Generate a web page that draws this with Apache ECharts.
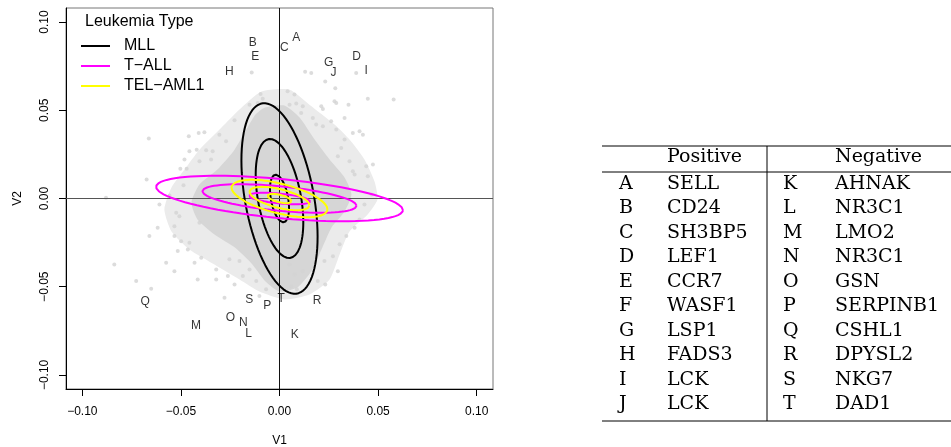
<!DOCTYPE html>
<html>
<head>
<meta charset="utf-8">
<script src="https://cdn.jsdelivr.net/npm/echarts@6/dist/echarts.min.js"></script>
<style>
html, body { margin: 0; padding: 0; background: #fff; }
#chart { width: 951px; height: 447px; }
</style>
</head>
<body>
<div id="chart"></div>
<script>
// tick positions on both axes
const axisTicks = [-0.1, -0.05, 0, 0.05, 0.1];

// gray gene cloud: outline of the dense core, outline of the thinner ring around it,
// and the single genes that sit outside / on the edge of it
const coreOutline = [[-0.0076,0.0515],[0.0025,0.0527],[0.0102,0.0459],[0.0178,0.0334],[0.0254,0.0221],[0.0330,0.0119],
  [0.0365,0.0023],[0.0330,-0.0074],[0.0264,-0.0164],[0.0213,-0.0289],[0.0162,-0.0413],[0.0091,-0.0504],[0.0,-0.0527],
  [-0.0071,-0.0470],[-0.0142,-0.0368],[-0.0228,-0.0277],[-0.0330,-0.0204],[-0.0416,-0.0119],[-0.0447,-0.0023],
  [-0.0406,0.0079],[-0.0315,0.0164],[-0.0228,0.0277],[-0.0162,0.0402],[-0.0122,0.0476]];
const ringOutline = [[-0.0091,0.0606],[0.0051,0.0617],[0.0152,0.0532],[0.0279,0.0419],[0.0355,0.0334],[0.0431,0.0221],
  [0.0482,0.0096],[0.0497,-0.0006],[0.0447,-0.0091],[0.0355,-0.0187],[0.0305,-0.0317],[0.0254,-0.0459],[0.0152,-0.0544],
  [0.0025,-0.0572],[-0.0102,-0.0527],[-0.0203,-0.0459],[-0.0330,-0.0374],[-0.0457,-0.0289],[-0.0548,-0.0187],
  [-0.0584,-0.0062],[-0.0548,0.0062],[-0.0482,0.0164],[-0.0406,0.0277],[-0.0294,0.0402],[-0.0203,0.0504]];
const genePoints = [
  [-0.0141,0.0715],[0.0130,0.0719],[0.0161,0.0712],[0.0232,0.0664],[0.0283,0.0625],[0.0389,0.0712],[0.0448,0.0566],
  [0.0579,0.0561],[0.0041,0.0608],[0.0076,0.0589],[-0.0096,0.0593],[-0.0085,0.0566],[0.0279,0.0551],[0.0350,0.0531],
  [0.0220,0.0508],[0.0051,0.0532],[0.0085,0.0538],[0.0118,0.0523],[0.0212,0.0523],[0.0110,0.0485],[0.0169,0.0457],
  [0.0262,0.0438],[0.0330,0.0457],[0.0288,0.0391],[0.0372,0.0372],[0.0406,0.0381],[0.0423,0.0362],[0.0186,0.0419],
  [0.0220,0.0409],[0.0330,0.0334],[0.0313,0.0287],[0.0296,0.0240],[0.0355,0.0211],[0.0440,0.0183],[0.0474,0.0193],
  [0.0448,0.0126],[0.0381,0.0136],[0.0372,0.0155],[0.0288,0.0542],[-0.0110,0.0542],[-0.0152,0.0532],
  [0.0339,-0.0213],[0.0296,-0.0412],[0.0271,-0.0327],[0.0228,-0.0355],[0.0305,-0.0260],[0.0194,-0.0468],[0.0118,-0.0412],
  [0.0076,-0.0430],[0.0051,-0.0374],[0.0059,-0.0497],[0.0381,-0.0166],[0.0406,-0.0119],[0.0088,-0.0515],[0.0232,-0.0487],
  [0.0431,-0.0034],[0.0467,0.0023],
  [-0.0663,0.0340],[-0.0674,0.0108],[-0.0460,0.0353],[-0.0410,0.0372],[-0.0381,0.0375],[-0.0305,0.0362],[-0.0228,0.0443],
  [-0.0271,0.0324],[-0.0457,0.0268],[-0.0420,0.0277],[-0.0372,0.0273],[-0.0339,0.0268],[-0.0347,0.0221],[-0.0406,0.0211],
  [-0.0471,0.0168],[-0.0503,0.0168],[-0.0487,0.0075],[-0.0880,0.0004],[-0.0838,-0.0374],[-0.0727,-0.0468],[-0.0618,-0.0166],
  [-0.0660,-0.0213],[-0.0533,-0.0213],[-0.0575,-0.0364],[-0.0524,-0.0081],[-0.0465,-0.0289],[-0.0651,-0.0511],[-0.0533,-0.0412],
  [-0.0516,-0.0298],[-0.0457,-0.0251],[-0.0415,-0.0459],[-0.0431,-0.0364],[-0.0397,-0.0336],[-0.0321,-0.0459],[-0.0321,-0.0402],
  [-0.0279,-0.0562],[-0.0262,-0.0440],[-0.0228,-0.0487],[-0.0186,-0.0440],[-0.0254,-0.0345],[-0.0203,-0.0355],[-0.0152,-0.0402],
  [-0.0118,-0.0468],[-0.0068,-0.0515],[-0.0508,-0.0100],[-0.0406,-0.0138],[-0.0533,-0.0157],[-0.0499,-0.0242],[-0.0102,-0.0553],
  [-0.0034,-0.0477],[-0.0558,0.0017],[-0.0609,-0.0034],[-0.0482,0.0221]
];

// labelled genes (letters refer to the table)
const geneLetters = ['A','B','C','D','E','G','H','I','J','K','L','M','N','O','P','Q','R','S','T'];
const geneV1 = [0.0085,-0.0136,0.0025,0.0391,-0.0123,0.0250,-0.0255,0.0440,0.0274,
  0.0078,-0.0157,-0.0423,-0.0184,-0.0249,-0.0062,-0.0682,0.0191,-0.0154,0.0009];
const geneV2 = [0.0912,0.0885,0.0855,0.0804,0.0802,0.0770,0.0721,0.0725,0.0715,
  -0.0774,-0.0766,-0.0723,-0.0704,-0.0678,-0.0606,-0.0585,-0.0581,-0.0572,-0.0568];

// contour ellipses for each leukemia type: centre, sd along V1/V2, correlation, contour radii
const groups = ['MLL', 'T\u2212ALL', 'TEL\u2212AML1'];
const groupColors = ['#000000', '#ff00ff', '#ffff00'];
const groupCenter = [[0, 0], [0, 0], [0, 0]];
const groupSd = [[0.00483, 0.0135], [0.01565, 0.00323], [0.00608, 0.00265]];
const groupCor = [-0.40, -0.51, -0.58];
const contourLevels = [1, 2.5, 4];

// table of gene names
const posLetters = ['A','B','C','D','E','F','G','H','I','J'];
const posGenes = ['SELL','CD24','SH3BP5','LEF1','CCR7','WASF1','LSP1','FADS3','LCK','LCK'];
const negLetters = ['K','L','M','N','O','P','Q','R','S','T'];
const negGenes = ['AHNAK','NR3C1','LMO2','NR3C1','GSN','SERPINB1','CSHL1','DPYSL2','NKG7','DAD1'];

const sans = 'Liberation Sans, Arial, Helvetica, sans-serif';
const serif = 'DejaVu Serif, serif';

function fmtTick(v) {
  return (v < 0 ? '\u2212' : '') + Math.abs(v).toFixed(2);
}

// one line series per group, the three contours separated by gaps
function ellipseData(g) {
  const out = [];
  const [cx, cy] = groupCenter[g];
  const [sx, sy] = groupSd[g];
  const r = groupCor[g];
  contourLevels.forEach(function (k) {
    for (let i = 0; i <= 90; i++) {
      const t = i / 90 * Math.PI * 2;
      out.push([cx + k * sx * Math.cos(t), cy + k * sy * (r * Math.cos(t) + Math.sqrt(1 - r * r) * Math.sin(t))]);
    }
    out.push([null, null]);
  });
  return out;
}

function areaSeries(outline, color, z) {
  return {
    type: 'custom',
    silent: true,
    z: z,
    data: [[0, 0]],
    encode: { x: 0, y: 1 },
    renderItem: function (params, api) {
      return {
        type: 'polygon',
        shape: { points: outline.map(function (p) { return api.coord(p); }), smooth: 0.2 },
        style: { fill: color }
      };
    }
  };
}

const chart = echarts.init(document.getElementById('chart'));

const series = [
  areaSeries(ringOutline, '#ebebeb', 1),
  areaSeries(coreOutline, '#d6d6d6', 1),
  {
    type: 'scatter',
    silent: true,
    z: 2,
    symbolSize: 4,
    itemStyle: { color: '#d3d3d3' },
    data: genePoints
  },
  {
    type: 'line',
    data: [],
    z: 3,
    markLine: {
      silent: true,
      symbol: 'none',
      label: { show: false },
      animation: false,
      data: [
        { xAxis: 0, lineStyle: { color: '#111', width: 1, type: 'solid' } },
        { yAxis: 0, lineStyle: { color: '#555', width: 1, type: 'solid' } }
      ]
    }
  }
];

groups.forEach(function (name, g) {
  series.push({
    name: name,
    type: 'line',
    z: 5 + g,
    silent: true,
    showSymbol: false,
    connectNulls: false,
    lineStyle: { color: groupColors[g], width: 2 },
    itemStyle: { color: groupColors[g] },
    data: ellipseData(g)
  });
});

series.push({
  type: 'scatter',
  silent: true,
  z: 10,
  symbolSize: 0,
  data: geneLetters.map(function (n, i) { return { name: n, value: [geneV1[i], geneV2[i]] }; }),
  label: {
    show: true,
    position: 'inside',
    formatter: '{b}',
    color: '#000',
    fontSize: 12,
    fontFamily: sans
  }
});

// table drawn with graphic elements
const tableLeft = 602, tableRight = 951, divider = 767;
const tableTop = 146, headLine = 172, tableBottom = 421;
const rowTop = 184, rowStep = 24.5;
const graphics = [
  { type: 'line', shape: { x1: tableLeft, y1: tableTop, x2: tableRight, y2: tableTop }, style: { stroke: '#000', lineWidth: 1 } },
  { type: 'line', shape: { x1: tableLeft, y1: headLine, x2: tableRight, y2: headLine }, style: { stroke: '#000', lineWidth: 1 } },
  { type: 'line', shape: { x1: tableLeft, y1: tableBottom, x2: tableRight, y2: tableBottom }, style: { stroke: '#000', lineWidth: 1 } },
  { type: 'line', shape: { x1: divider, y1: tableTop, x2: divider, y2: tableBottom }, style: { stroke: '#000', lineWidth: 1 } },
  { type: 'text', x: 667, y: 157, style: { text: 'Positive', font: '19px ' + serif, fill: '#000', verticalAlign: 'middle' } },
  { type: 'text', x: 835, y: 157, style: { text: 'Negative', font: '19px ' + serif, fill: '#000', verticalAlign: 'middle' } }
];
posLetters.forEach(function (l, i) {
  const y = rowTop + i * rowStep;
  [[619, l], [667, posGenes[i]], [783, negLetters[i]], [835, negGenes[i]]].forEach(function (c) {
    graphics.push({ type: 'text', x: c[0], y: y, style: { text: c[1], font: '19px ' + serif, fill: '#000', verticalAlign: 'middle' } });
  });
});

chart.setOption({
  animation: false,
  title: {
    text: 'Leukemia Type',
    left: 85,
    top: 14,
    padding: 0,
    textStyle: { fontSize: 16, fontWeight: 'normal', color: '#000', fontFamily: sans }
  },
  legend: {
    data: groups,
    orient: 'vertical',
    left: 81,
    top: 38,
    padding: 0,
    itemGap: 4,
    itemWidth: 29,
    itemHeight: 2,
    icon: 'rect',
    selectedMode: false,
    textStyle: { fontSize: 16, color: '#000', fontFamily: sans, padding: [0, 0, 0, 9] }
  },
  grid: {
    left: 66, top: 8, width: 427, height: 381,
    containLabel: false, outerBoundsMode: 'none',
    show: true, borderColor: '#777', borderWidth: 1
  },
  xAxis: {
    type: 'value',
    min: -0.1083,
    max: 0.1083,
    name: 'V1',
    nameLocation: 'middle',
    nameGap: 46,
    nameTextStyle: { fontSize: 12, color: '#000', fontFamily: sans },
    axisLine: { show: true, onZero: false, lineStyle: { color: '#000' } },
    axisTick: { show: true, length: 7, customValues: axisTicks, lineStyle: { color: '#000' } },
    axisLabel: { customValues: axisTicks, formatter: fmtTick, fontSize: 12, margin: 17, color: '#000', fontFamily: sans },
    splitLine: { show: false }
  },
  yAxis: {
    type: 'value',
    min: -0.108,
    max: 0.108,
    name: 'V2',
    nameLocation: 'middle',
    nameRotate: 90,
    nameGap: 42,
    nameTextStyle: { fontSize: 12, color: '#000', fontFamily: sans },
    axisLine: { show: true, onZero: false, lineStyle: { color: '#000' } },
    axisTick: { show: true, length: 7, customValues: axisTicks, lineStyle: { color: '#000' } },
    axisLabel: { customValues: axisTicks, formatter: fmtTick, rotate: 90, fontSize: 12, margin: 15, color: '#000', fontFamily: sans },
    splitLine: { show: false }
  },
  graphic: graphics,
  series: series
});
</script>
</body>
</html>
